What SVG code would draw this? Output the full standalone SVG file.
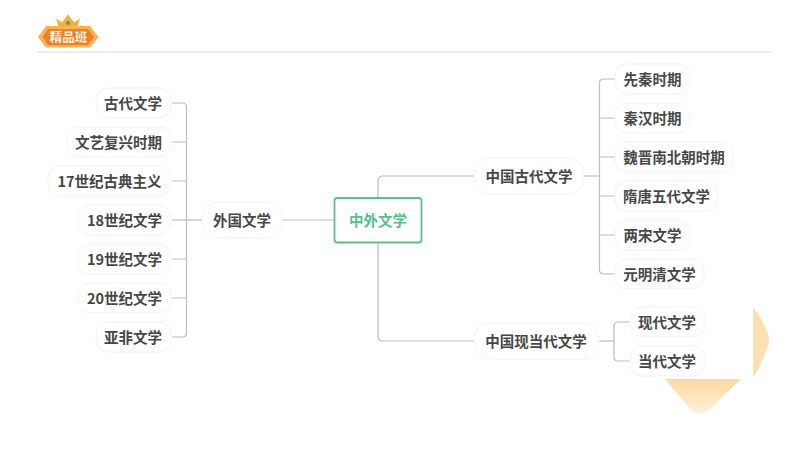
<svg xmlns="http://www.w3.org/2000/svg" width="800" height="450" viewBox="0 0 800 450">
<style>
text{font-family:"Noto Sans CJK SC","Liberation Sans",sans-serif;font-size:14.5px;font-weight:700;fill:#474747;text-anchor:middle;dominant-baseline:central}
.n rect{fill:#fff;stroke:#f3f3f3;stroke-width:1}
.c path{fill:none;stroke:#bdbdbd;stroke-width:1.2}
</style>
<defs><linearGradient id="o" x1="0" y1="0" x2="0" y2="1"><stop offset="0" stop-color="#fcd9a0"/><stop offset="1" stop-color="#fef0d8"/></linearGradient></defs>
<rect width="800" height="450" fill="#fff"/>
<g id="decor">
<path d="M753 307Q762 318 768 334Q770 340 768 346Q762 364 753 378Z" fill="#fde0b0"/>
<path d="M665 379H741L710 409Q700 418 690 409Z" fill="url(#o)"/>
</g>
<g id="logo">
<path d="M59 28L56 18.500L62 22.500L68 14.500L74 22.500L80 18.500L77 28Z" fill="#f5b02e"/>
<path d="M46 26H90L98.500 37L90 47.500H46L38 37Z" fill="#f8b44e"/>
<path d="M48 29H88L94 37L88 45H48L42.500 37Z" fill="#ee7f2b"/>
<circle cx="68" cy="23" r="2" fill="#4a9a9a"/>
<text x="68.500" y="36" style="font-size:12.500px;fill:#fff3e0">精品班</text>
</g>
<path id="rule" d="M37 52H772" stroke="#dcdcdc" stroke-width="1.2" fill="none"/>
<g id="connectors" class="c">
<path d="M282 220H334"/>
<path d="M378 198V181Q378 176 383 176H474"/>
<path d="M378 242V336Q378 341 383 341H474"/>
<path d="M202 220H172"/>
<path d="M172 103H182Q186.500 103 186.500 107V333Q186.500 337 182 337H172"/>
<path d="M172 142H186.500M172 181H186.500M172 259H186.500M172 298H186.500"/>
<path d="M584 176H600"/>
<path d="M615 79H604Q599.500 79 599.500 83V270Q599.500 274 604 274H615"/>
<path d="M615 118H600M615 157H600M615 196H600M615 235H600"/>
<path d="M599 341H614"/>
<path d="M630 322H618Q614 322 614 326V357Q614 361 618 361H630"/>
</g>
<g id="center"><rect x="334.500" y="198" width="87" height="44.500" rx="3" fill="#fff" stroke="#5cc08c" stroke-width="1.800"/><text x="378" y="219" style="fill:#55c088">中外文学</text></g>
<g id="foreign" class="n"><rect x="202" y="202" width="80" height="36" rx="16"/><text x="242" y="219">外国文学</text></g>
<g id="n1" class="n"><rect x="96" y="88" width="75" height="30" rx="12"/><text x="133" y="102">古代文学</text></g>
<g id="n2" class="n"><rect x="67" y="127" width="104" height="30" rx="12"/><text x="118.500" y="141">文艺复兴时期</text></g>
<g id="n3" class="n"><rect x="48" y="166" width="123" height="30" rx="12"/><text x="109.500" y="180">17世纪古典主义</text></g>
<g id="n4" class="n"><rect x="78" y="205" width="93" height="30" rx="12"/><text x="124.500" y="219">18世纪文学</text></g>
<g id="n5" class="n"><rect x="78" y="244" width="93" height="30" rx="12"/><text x="124.500" y="258">19世纪文学</text></g>
<g id="n6" class="n"><rect x="78" y="283" width="93" height="30" rx="12"/><text x="124.500" y="297">20世纪文学</text></g>
<g id="n7" class="n"><rect x="96" y="322" width="75" height="30" rx="12"/><text x="133" y="336">亚非文学</text></g>
<g id="ancient" class="n"><rect x="474" y="158" width="110" height="36" rx="16"/><text x="529" y="175">中国古代文学</text></g>
<g id="modern" class="n"><rect x="474" y="323" width="125" height="36" rx="16"/><text x="536" y="340">中国现当代文学</text></g>
<g id="r1" class="n"><rect x="615" y="64" width="75" height="30" rx="12"/><text x="652.500" y="78">先秦时期</text></g>
<g id="r2" class="n"><rect x="615" y="103" width="75" height="30" rx="12"/><text x="652.500" y="117">秦汉时期</text></g>
<g id="r3" class="n"><rect x="615" y="142" width="118" height="30" rx="12"/><text x="674" y="156">魏晋南北朝时期</text></g>
<g id="r4" class="n"><rect x="615" y="181" width="103" height="30" rx="12"/><text x="666.500" y="195">隋唐五代文学</text></g>
<g id="r5" class="n"><rect x="615" y="220" width="75" height="30" rx="12"/><text x="652.500" y="234">两宋文学</text></g>
<g id="r6" class="n"><rect x="615" y="259" width="89" height="30" rx="12"/><text x="659.500" y="273">元明清文学</text></g>
<g id="m1" class="n"><rect x="630" y="307" width="75" height="30" rx="12"/><text x="667" y="321">现代文学</text></g>
<g id="m2" class="n"><rect x="630" y="346" width="75" height="30" rx="12"/><text x="667" y="360">当代文学</text></g>
</svg>
